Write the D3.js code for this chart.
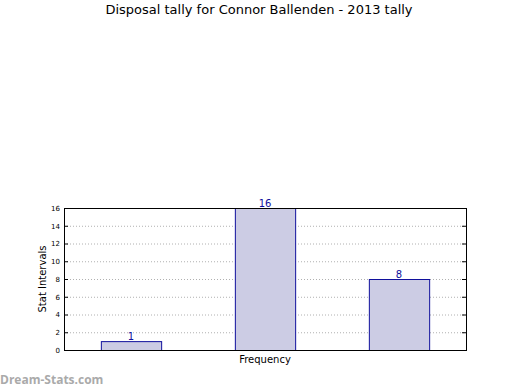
<!DOCTYPE html>
<html>
<head>
<meta charset="utf-8">
<script src="https://cdn.jsdelivr.net/npm/d3@7"></script>
<style>
  body { margin: 0; background: #fff; }
  svg { font-family: "DejaVu Sans", sans-serif; }
</style>
</head>
<body>
<div id="chart"></div>
<script>
// chart data
var categories = ['a', 'b', 'c'];
var values = [1, 16, 8];
var yTicks = [0, 2, 4, 6, 8, 10, 12, 14, 16];

var margin = { top: 208, right: 54, bottom: 40, left: 64 },
    width = 520 - margin.left - margin.right,
    height = 390 - margin.top - margin.bottom;

var root = d3.select('#chart')
  .append('svg')
    .attr('width', 520)
    .attr('height', 390);

var svg = root.append('g')
    .attr('transform', 'translate(' + margin.left + ',' + margin.top + ')');

var x = d3.scaleBand()
  .domain(categories)
  .range([0, width])
  .paddingInner(0.55)
  .paddingOuter(0.275);

var y = d3.scaleLinear()
  .domain([0, 16])
  .range([height, 0]);

// dotted grid
svg.append('g')
  .selectAll('line')
  .data(yTicks)
  .enter()
  .append('line')
    .attr('x1', 0)
    .attr('x2', width)
    .attr('y1', d => y(d) + 0.5)
    .attr('y2', d => y(d) + 0.5)
    .attr('stroke', '#b0b0b0')
    .attr('stroke-dasharray', '1,2');

// bars
svg.append('g')
  .selectAll('rect')
  .data(values)
  .enter()
  .append('rect')
    .attr('x', (d, i) => x(categories[i]) + 0.5)
    .attr('y', d => y(d) + 0.5)
    .attr('width', x.bandwidth())
    .attr('height', d => height - y(d))
    .attr('fill', '#ccccE4')
    .attr('stroke', '#10109c')
    .attr('stroke-width', 1);

// value labels
svg.append('g')
  .selectAll('text')
  .data(values)
  .enter()
  .append('text')
    .attr('x', (d, i) => x(categories[i]) + x.bandwidth() / 2)
    .attr('y', d => y(d) - 1)
    .attr('text-anchor', 'middle')
    .attr('font-size', '10px')
    .attr('fill', '#10109c')
    .text(d => d);

// y axis, ticks inside
var yAxis = svg.append('g')
  .call(d3.axisLeft(y).tickValues(yTicks).tickSize(-4).tickPadding(4))
yAxis.select('.domain').remove();
yAxis.selectAll('text').attr('font-size', '7px').attr('font-family', '"DejaVu Sans", sans-serif');
yAxis.selectAll('line').attr('stroke', '#000');

var yAxisR = svg.append('g')
  .attr('transform', 'translate(' + width + ',0)')
  .call(d3.axisRight(y).tickValues(yTicks).tickSize(-4).tickFormat(''));
yAxisR.select('.domain').remove();

// frame
svg.append('rect')
  .attr('x', 0.5)
  .attr('y', 0.5)
  .attr('width', width)
  .attr('height', height)
  .attr('fill', 'none')
  .attr('stroke', '#000');

// titles
root.append('text')
  .attr('x', 259)
  .attr('y', 14)
  .attr('text-anchor', 'middle')
  .attr('font-size', '13px')
  .text('Disposal tally for Connor Ballenden - 2013 tally');

root.append('text')
  .attr('x', margin.left + width / 2)
  .attr('y', 363)
  .attr('text-anchor', 'middle')
  .attr('font-size', '10px')
  .text('Frequency');

root.append('text')
  .attr('transform', 'translate(46,' + (margin.top + height / 2) + ') rotate(-90)')
  .attr('text-anchor', 'middle')
  .attr('font-size', '10px')
  .text('Stat Intervals');

root.append('text')
  .attr('x', 0)
  .attr('y', 384)
  .attr('font-size', '12px')
  .attr('font-weight', 'bold')
  .attr('fill', '#aaaaaa')
  .attr('font-family', '"Open Sans", "DejaVu Sans", sans-serif')
  .text('Dream-Stats.com');
</script>
</body>
</html>
